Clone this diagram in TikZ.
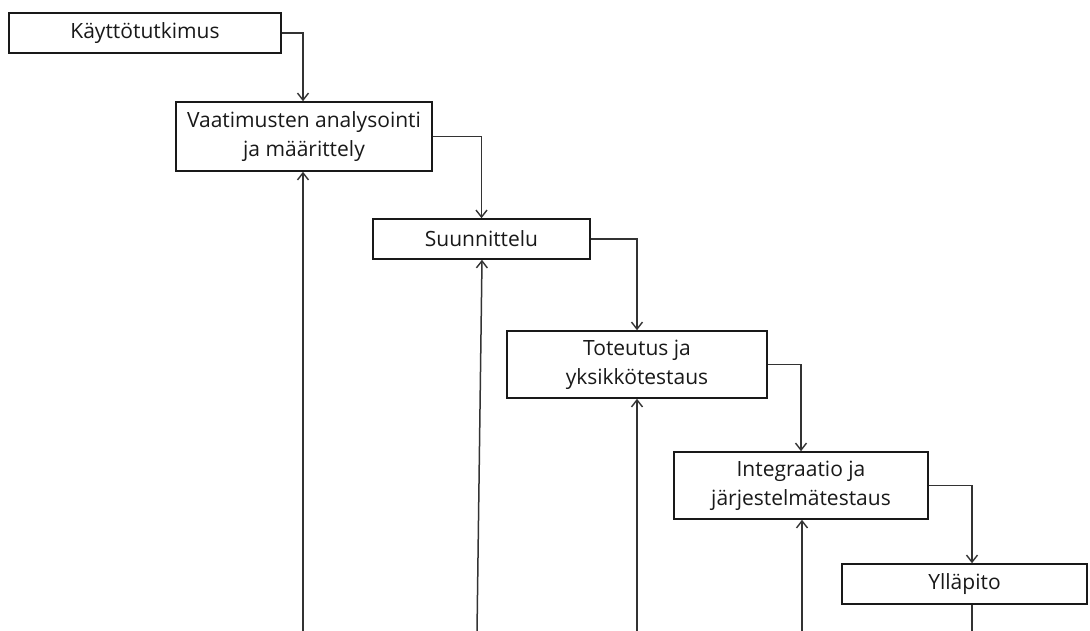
\documentclass[tikz,border=0pt]{standalone}
\usepackage{fontspec}
\setmainfont{Open Sans}
\usetikzlibrary{arrows.meta}
\begin{document}
\begin{tikzpicture}[x=1pt,y=-1pt,
  stage/.style={draw=black!90, line width=1.6pt, fill=white, align=center,
    inner sep=0pt, font=\fontsize{21}{29}\selectfont, text=black!90},
  link/.style={draw=black!80, line width=1.5pt},
  flow/.style={link, -{Straight Barb[length=7pt,width=11pt,line width=1.4pt]}}]
\useasboundingbox (0,0) rectangle (1090,630);

% waterfall stages
\node[stage, minimum width=272pt, minimum height=40pt] (b1) at (145,33) {Käyttötutkimus};
\node[stage, minimum width=256pt, minimum height=69pt] (b2) at (304,136.5) {Vaatimusten analysointi\\ja määrittely};
\node[stage, minimum width=217pt, minimum height=40pt] (b3) at (481.5,239) {Suunnittelu};
\node[stage, minimum width=260pt, minimum height=67pt] (b4) at (637,364.5) {Toteutus ja\\yksikkötestaus};
\node[stage, minimum width=254pt, minimum height=67pt] (b5) at (801,485.5) {Integraatio ja\\järjestelmätestaus};
\node[stage, minimum width=245pt, minimum height=40pt] (b6) at (964.5,584) {Ylläpito};

% forward flow
\draw[flow] (b1.east) -| ([xshift=-1pt]b2.north);
\draw[flow] (b2.east) -| (b3.north);
\draw[flow] (b3.east) -| (b4.north);
\draw[flow] (b4.east) -| (b5.north);
\draw[flow] (b5.east) -| ([xshift=7.5pt]b6.north);

% feedback lines rising from below
\coordinate (f2) at (303,632);
\coordinate (f3) at (477,632);
\coordinate (f4) at (637,632);
\coordinate (f5) at (802,632);
\coordinate (f6) at (972,632);
\draw[flow] (f2) -- ([xshift=-1pt]b2.south);
\draw[flow] (f3) -- ([xshift=0.5pt]b3.south);
\draw[flow] (f4) -- (b4.south);
\draw[flow] (f5) -- ([xshift=1pt]b5.south);
\draw[link] ([xshift=7.5pt]b6.south) -- (f6);
\end{tikzpicture}
\end{document}
